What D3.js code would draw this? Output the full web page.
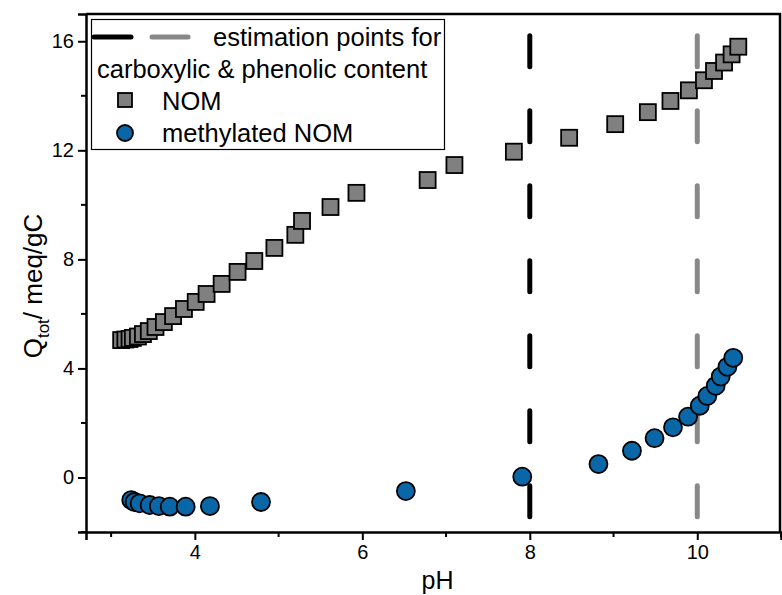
<!DOCTYPE html>
<html>
<head>
<meta charset="utf-8">
<script src="https://cdn.jsdelivr.net/npm/d3@7"></script>
<style>
  body { margin: 0; background: #fff; }
  text { font-family: Arial, "Liberation Sans", sans-serif; }
</style>
</head>
<body>
<div id="chart"></div>
<script>
// NOM (squares)
var nomPH = [3.12, 3.17, 3.22, 3.26, 3.32, 3.38, 3.45, 3.53, 3.63, 3.74, 3.87, 4.01,
  4.14, 4.32, 4.51, 4.71, 4.95, 5.20, 5.28, 5.62, 5.93, 6.78, 7.10, 7.81, 8.47,
  9.02, 9.41, 9.68, 9.90, 10.08, 10.20, 10.32, 10.41, 10.49];
var nomQ = [5.04, 5.06, 5.08, 5.12, 5.17, 5.26, 5.37, 5.52, 5.70, 5.92, 6.18, 6.44,
  6.73, 7.10, 7.54, 7.94, 8.42, 8.90, 9.41, 9.92, 10.44, 10.91, 11.46, 11.95, 12.46,
  12.96, 13.40, 13.81, 14.20, 14.57, 14.91, 15.22, 15.52, 15.80];

// methylated NOM (circles)
var metPH = [3.24, 3.28, 3.34, 3.46, 3.57, 3.70, 3.89, 4.18, 4.79, 6.52, 7.91,
  8.82, 9.22, 9.49, 9.71, 9.89, 10.03, 10.12, 10.22, 10.28, 10.36, 10.43];
var metQ = [-0.83, -0.90, -0.95, -1.01, -1.05, -1.07, -1.07, -1.05, -0.90, -0.50, 0.03,
  0.49, 0.98, 1.44, 1.84, 2.23, 2.63, 2.99, 3.36, 3.70, 4.06, 4.39];

// estimation lines
var estPH = [8, 10];
var estColor = ["#000000", "#888888"];
var estRange = [-1.5, 16.2];

var xTicks = [4, 6, 8, 10];
var xMinor = [3, 5, 7, 9, 11];
var yTicks = [0, 4, 8, 12, 16];
var yMinor = [-2, 2, 6, 10, 14];

var W = 782, H = 595;
var margin = { top: 14, right: 1, bottom: 63, left: 86 };

var svg = d3.select("#chart").append("svg")
  .attr("width", W).attr("height", H);

var x = d3.scaleLinear().domain([2.7, 11]).range([margin.left, W - margin.right]);
var y = d3.scaleLinear().domain([-2, 17]).range([H - margin.bottom, margin.top]);

// vertical dashed estimation lines
estPH.forEach(function (p, i) {
  svg.append("line")
    .attr("x1", x(p)).attr("x2", x(p))
    .attr("y1", y(estRange[1])).attr("y2", y(estRange[0]))
    .attr("stroke", estColor[i])
    .attr("stroke-width", 5)
    .attr("stroke-linecap", "round")
    .attr("stroke-dasharray", "31,44");
});

// squares
var sq = 16;
svg.selectAll(".nom").data(nomPH).enter().append("rect")
  .attr("class", "nom")
  .attr("x", (d, i) => x(d) - sq / 2)
  .attr("y", (d, i) => y(nomQ[i]) - sq / 2)
  .attr("width", sq).attr("height", sq)
  .attr("fill", "#808080")
  .attr("stroke", "#000").attr("stroke-width", 1.8);

// circles
svg.selectAll(".met").data(metPH).enter().append("circle")
  .attr("class", "met")
  .attr("cx", d => x(d))
  .attr("cy", (d, i) => y(metQ[i]))
  .attr("r", 9)
  .attr("fill", "#0a67a7")
  .attr("stroke", "#000").attr("stroke-width", 1.8);

// axes
var xAxis = svg.append("g")
  .attr("transform", "translate(0," + y.range()[0] + ")")
  .call(d3.axisBottom(x).tickValues(xTicks).tickSize(8).tickPadding(5).tickFormat(d3.format("d")));
xAxis.append("g").selectAll("line").data(xMinor).enter().append("line")
  .attr("x1", d => x(d)).attr("x2", d => x(d))
  .attr("y1", 0).attr("y2", 5).attr("stroke", "#000").attr("stroke-width", 2);

var yAxis = svg.append("g")
  .attr("transform", "translate(" + x.range()[0] + ",0)")
  .call(d3.axisLeft(y).tickValues(yTicks).tickSize(8).tickPadding(4).tickFormat(d3.format("d")));
yAxis.append("g").selectAll("line").data(yMinor).enter().append("line")
  .attr("y1", d => y(d)).attr("y2", d => y(d))
  .attr("x1", 0).attr("x2", -5).attr("stroke", "#000").attr("stroke-width", 2);

[xAxis, yAxis].forEach(function (g) {
  g.attr("font-family", null);
  g.select(".domain").attr("stroke-width", 2.5);
  g.selectAll(".tick line").attr("stroke-width", 2);
  g.selectAll(".tick text").attr("font-size", 20).attr("fill", "#000");
});

// top and right border
svg.append("path")
  .attr("d", "M" + x.range()[0] + "," + y.range()[1] + "H" + (x.range()[1] - 1) + "V" + y.range()[0])
  .attr("fill", "none").attr("stroke", "#000").attr("stroke-width", 2.5);

// axis titles
svg.append("text")
  .attr("x", (x.range()[0] + x.range()[1]) / 2 + 4)
  .attr("y", 589)
  .attr("text-anchor", "middle")
  .attr("font-size", 25)
  .text("pH");

var yl = svg.append("text")
  .attr("transform", "translate(42,286) rotate(-90)")
  .attr("text-anchor", "middle")
  .attr("font-size", 26);
yl.append("tspan").text("Q");
yl.append("tspan").attr("font-size", 17).attr("dy", 7).text("tot");
yl.append("tspan").attr("dy", -7).text("/ meq/gC");

// legend
var lg = svg.append("g");
lg.append("rect")
  .attr("x", 91.5).attr("y", 19.5).attr("width", 353).attr("height", 130)
  .attr("fill", "#fff").attr("stroke", "#000").attr("stroke-width", 1.2);
var legLines = [[94, 131], [152, 188]];
legLines.forEach(function (l, i) {
  lg.append("line").attr("x1", l[0]).attr("x2", l[1]).attr("y1", 37).attr("y2", 37)
    .attr("stroke", estColor[i]).attr("stroke-width", 5).attr("stroke-linecap", "round");
});
var fs = 25.5;
lg.append("text").attr("x", 213).attr("y", 46).attr("font-size", fs).text("estimation points for");
lg.append("text").attr("x", 97).attr("y", 78).attr("font-size", fs).text("carboxylic & phenolic content");
lg.append("rect").attr("x", 118).attr("y", 93).attr("width", 14).attr("height", 14)
  .attr("fill", "#808080").attr("stroke", "#000").attr("stroke-width", 1.8);
lg.append("text").attr("x", 162).attr("y", 110).attr("font-size", fs).text("NOM");
lg.append("circle").attr("cx", 125).attr("cy", 133).attr("r", 8)
  .attr("fill", "#0a67a7").attr("stroke", "#000").attr("stroke-width", 1.8);
lg.append("text").attr("x", 162).attr("y", 142).attr("font-size", fs).text("methylated NOM");
</script>
</body>
</html>
